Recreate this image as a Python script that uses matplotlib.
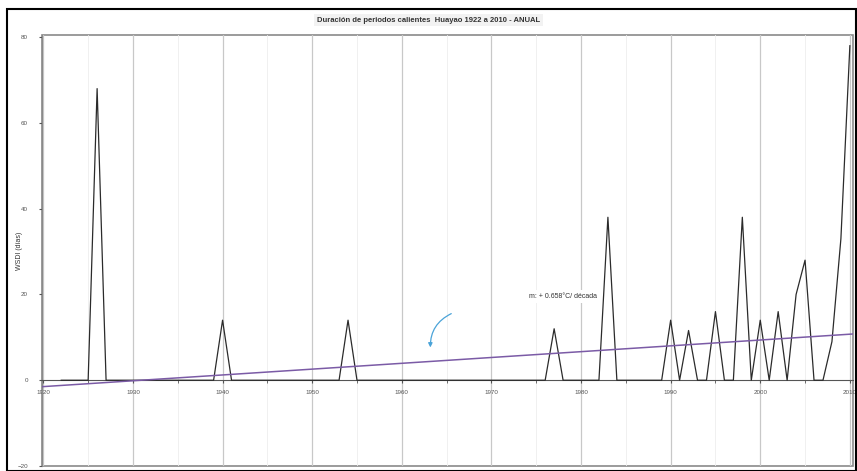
import numpy as np
import matplotlib.pyplot as plt
from matplotlib.patches import Rectangle

# WSDI anual, Huayao 1922-2010 (días)
years = np.arange(1922, 2011)
wsdi_nonzero = {
    1926: 68, 1940: 14, 1954: 14, 1977: 12, 1983: 38,
    1990: 14, 1992: 11.6, 1995: 16, 1998: 38, 2000: 14,
    2002: 16, 2004: 20, 2005: 28, 2008: 9, 2009: 33, 2010: 78,
}
wsdi = np.array([wsdi_nonzero.get(y, 0) for y in years], dtype=float)

x_ticks = np.arange(1920, 2011, 10)
y_ticks = np.arange(-20, 81, 20)

titulo = 'Duración de periodos calientes  Huayao 1922 a 2010 - ANUAL'
etiqueta_m = 'm: + 0.658°C/ década'

plt.rcParams['font.family'] = ['Liberation Sans', 'DejaVu Sans']

fig = plt.figure(figsize=(8.57, 4.71), dpi=100)
ax = fig.add_axes([42/857, 1 - 466/471, (853 - 42)/857, (466 - 35)/471])

# tendencia lineal
m, b = np.polyfit(years, wsdi, 1)
xl = (1919.85, 2010.35)
xt = np.array(xl)

ax.plot(years, wsdi, color='#2b2b2b', lw=0.9, zorder=3)
ax.plot(xt, m * xt + b, color='#7b5ba6', lw=1.1, zorder=4)

ax.set_xlim(*xl)
ax.set_ylim(-20, 80.5)
ax.set_xticks(x_ticks)
ax.set_xticks(np.arange(1925, 2010, 10), minor=True)
ax.set_yticks(y_ticks)
ax.grid(axis='x', which='major', color='#c8c8c8', lw=0.9)
ax.grid(axis='x', which='minor', color='#eeeeee', lw=0.6)

for s in ['top', 'right']:
    ax.spines[s].set_visible(False)
ax.spines['bottom'].set_position(('data', 0))
ax.spines['bottom'].set_color('#555555')
ax.spines['left'].set_color('#8a8a8a')
ax.patch.set_edgecolor('#8a8a8a')
ax.patch.set_linewidth(1.2)

ax.tick_params(axis='x', which='both', length=2, labelsize=4.5, colors='#555555', pad=5)
ax.tick_params(axis='y', length=2, labelsize=4.5, colors='#555555', pad=8)
ax.set_ylabel('WSDI (días)', fontsize=5, color='#333333')
ax.yaxis.set_label_coords(-0.023, 0.5)

ax.text(1978, 19.5, etiqueta_m, fontsize=5, color='#333333', ha='center', va='center',
        bbox=dict(facecolor='white', edgecolor='none', pad=2), zorder=5)

# flecha a mano
ax.annotate('', xy=(1963.2, 7), xytext=(1965.8, 15.8),
            arrowprops=dict(arrowstyle='-|>', color='#4aa3d8', lw=0.9,
                            connectionstyle='arc3,rad=0.35', mutation_scale=6))

fig.text(0.5, 1 - 20/471, titulo, fontsize=5.5, fontweight='bold', color='#333333',
         ha='center', va='center',
         bbox=dict(facecolor='#f2f2f2', edgecolor='none', pad=2))

fig.patches.append(Rectangle((7/857, 0), (856 - 7)/857, 1 - 9/471, transform=fig.transFigure,
                             fill=False, edgecolor='black', lw=1.5))

fig.savefig('out.png', dpi=100)
